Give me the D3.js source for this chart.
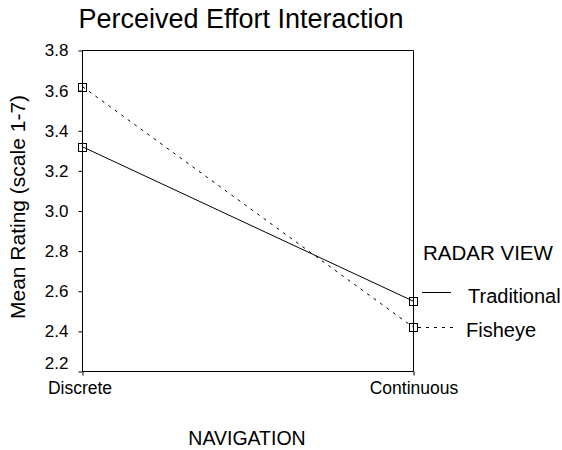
<!DOCTYPE html>
<html>
<head>
<meta charset="utf-8">
<script src="https://cdn.jsdelivr.net/npm/d3@7/dist/d3.min.js"></script>
<style>
  html, body { margin: 0; padding: 0; background: #fff; }
  svg { display: block; font-family: "Liberation Sans", Arial, sans-serif; }
</style>
</head>
<body>
<svg id="chart" width="562" height="450"></svg>
<script>
// ---- data ----
const categories = ["Discrete", "Continuous"];
const seriesNames = ["Traditional", "Fisheye"];
const traditional = [3.32, 2.55];
const fisheye = [3.62, 2.42];
const yTicks = [2.2, 2.4, 2.6, 2.8, 3.0, 3.2, 3.4, 3.6, 3.8];
const title = "Perceived Effort Interaction";
const yTitle = "Mean Rating (scale 1-7)";
const xTitle = "NAVIGATION";
const legendTitle = "RADAR VIEW";

const svg = d3.select("#chart");
const L = 82, R = 413, T = 50.5, B = 371.5;

const x = d3.scalePoint().domain(categories).range([L, R]);
const y = d3.scaleLinear().domain([2.2, 3.8]).range([B, T]);

// frame (top and right)
svg.append("line").attr("x1", L).attr("x2", R + 0.5).attr("y1", T).attr("y2", T)
  .attr("stroke", "#000").attr("stroke-width", 1);
svg.append("line").attr("x1", R + 0.5).attr("x2", R + 0.5).attr("y1", T).attr("y2", B)
  .attr("stroke", "#000").attr("stroke-width", 1);

// y axis
const yAxis = d3.axisLeft(y).tickValues(yTicks).tickFormat(d3.format(".1f"))
  .tickSize(4).tickPadding(10);
const gy = svg.append("g").attr("transform", `translate(${L + 0.5},0)`).call(yAxis);
gy.select(".domain").attr("d", `M0,${T}V${B}`);
gy.selectAll("text").attr("font-size", 17).attr("font-family", "Liberation Sans, Arial, sans-serif")
  .attr("fill", "#000")
  .attr("dy", d => d === 2.2 ? "-0.15em" : "0.32em");

// x axis
const xAxis = d3.axisBottom(x).tickSize(4).tickPadding(6);
const gx = svg.append("g").attr("transform", `translate(0.5,${B})`).call(xAxis);
gx.select(".domain").attr("d", `M${L},0H${R}`);
gx.selectAll("text").attr("font-size", 17.5).attr("font-family", "Liberation Sans, Arial, sans-serif")
  .attr("fill", "#000")
  .attr("dx", d => d === categories[0] ? -3 : 0);

// lines
const series = [
  { name: seriesNames[0], values: traditional, dash: null },
  { name: seriesNames[1], values: fisheye, dash: "3,5" }
];
const line = d3.line().x((d, i) => x(categories[i]) + 0.5).y(d => y(d));
series.forEach(s => {
  svg.append("path").attr("d", line(s.values)).attr("fill", "none")
    .attr("stroke", "#000").attr("stroke-width", 1)
    .attr("stroke-dasharray", s.dash);
  s.values.forEach((v, i) => {
    svg.append("rect")
      .attr("x", x(categories[i]) + 0.5 - 4).attr("y", Math.round(y(v)) + 0.5 - 4)
      .attr("width", 8).attr("height", 8)
      .attr("fill", "none").attr("stroke", "#000").attr("stroke-width", 1);
  });
});

// titles
svg.append("text").attr("x", 241).attr("y", 28).attr("text-anchor", "middle")
  .attr("font-size", 27).text(title);
svg.append("text").attr("x", 247).attr("y", 445).attr("text-anchor", "middle")
  .attr("font-size", 19.5).text(xTitle);
svg.append("text").attr("transform", "translate(25,207) rotate(-90)")
  .attr("text-anchor", "middle").attr("font-size", 21).text(yTitle);

// legend
svg.append("text").attr("x", 423).attr("y", 260).attr("font-size", 20.5).text(legendTitle);
const legY = [292, 327];
const legTextY = [303, 337];
series.forEach((s, i) => {
  svg.append("line").attr("x1", i === 0 ? 422 : 418).attr("x2", i === 0 ? 451 : 457)
    .attr("y1", legY[i] + 0.5).attr("y2", legY[i] + 0.5)
    .attr("stroke", "#000").attr("stroke-width", 1).attr("stroke-dasharray", s.dash);
  svg.append("text").attr("x", i === 0 ? 468 : 466).attr("y", legTextY[i])
    .attr("font-size", 20).text(s.name);
});
</script>
</body>
</html>
